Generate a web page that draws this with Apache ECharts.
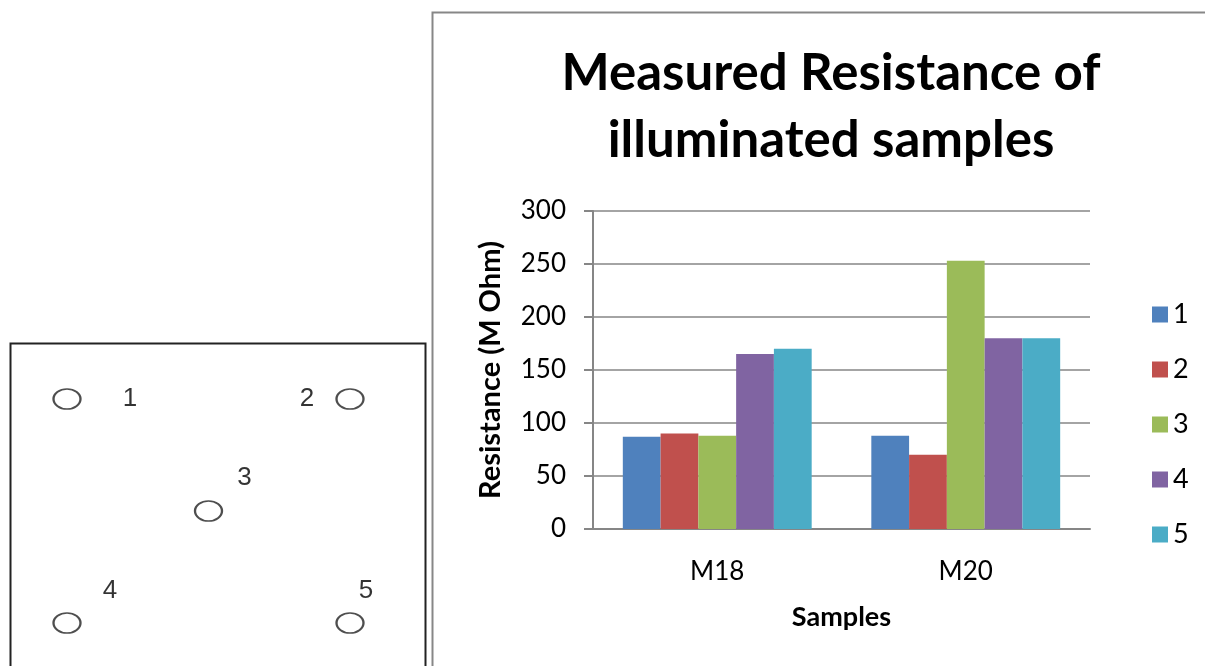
<!DOCTYPE html>
<html>
<head>
<meta charset="utf-8">
<script src="https://cdn.jsdelivr.net/npm/echarts@6/dist/echarts.min.js"></script>
<style>
html,body{margin:0;padding:0;background:#fff;}
#chart{width:1205px;height:666px;}
</style>
</head>
<body>
<div id="chart"></div>
<script>
// ---- data ----
const categories = ['M18', 'M20'];
const seriesNames = ['1', '2', '3', '4', '5'];
const values1 = [87, 88];
const values2 = [90, 70];
const values3 = [88, 253];
const values4 = [165, 180];
const values5 = [170, 180];
const yTicks = [0, 50, 100, 150, 200, 250, 300];
// electrode layout diagram (positions on a 3x3 layout)
const electrodeLabels = ['1', '2', '3', '4', '5'];
const electrodeX = [0, 2, 1, 0, 2];
const electrodeY = [2, 2, 1, 0, 0];

const colors = ['#4F81BD', '#C0504D', '#9BBB59', '#8064A2', '#4BACC6'];
const allValues = [values1, values2, values3, values4, values5];
const labelOffsets = [[63, 0], [-43, 0], [36, -33], [43, -32], [16, -32]];

const chart = echarts.init(document.getElementById('chart'), null, {renderer: 'canvas'});
const FONT = 'Lato';

const barSeries = seriesNames.map((n, i) => ({
  name: n,
  type: 'bar',
  xAxisIndex: 0,
  yAxisIndex: 0,
  data: allValues[i],
  barGap: '0%',
  barCategoryGap: '24%',
  itemStyle: {color: colors[i]},
  animation: false
}));

const option = {
  animation: false,
  textStyle: {fontFamily: FONT},
  title: {
    text: 'Measured Resistance of\nilluminated samples',
    left: 826, top: 35, textAlign: 'center',
    textStyle: {fontFamily: FONT, fontWeight: 'bold', fontSize: 51, lineHeight: 67, color: '#000'}
  },
  legend: {
    orient: 'vertical',
    left: 1147, top: 296,
    itemWidth: 16, itemHeight: 16, itemGap: 28,
    icon: 'rect',
    data: seriesNames,
    textStyle: {fontFamily: FONT, fontSize: 27, lineHeight: 22, color: '#000', padding: [0,0,0,0]}
  },
  grid: [
    {left: 593, right: 115, top: 211, bottom: 137, containLabel: false},
    {left: 67, width: 283, top: 399, height: 224}
  ],
  xAxis: [
    {
      type: 'category', gridIndex: 0, data: categories,
      axisLine: {lineStyle: {color: '#868686', width: 2}},
      axisTick: {show: false},
      axisLabel: {fontFamily: FONT, fontSize: 26, color: '#000', margin: 30},
      name: 'Samples', nameLocation: 'middle', nameGap: 75,
      nameTextStyle: {fontFamily: FONT, fontWeight: 'bold', fontSize: 27, color: '#000'}
    },
    {type: 'value', gridIndex: 1, min: 0, max: 2, show: false}
  ],
  yAxis: [
    {
      type: 'value', gridIndex: 0, min: 0, max: 300, interval: 50,
      axisLine: {show: true, lineStyle: {color: '#868686', width: 2}},
      axisTick: {show: true, length: 9, lineStyle: {color: '#868686', width: 2}},
      splitLine: {lineStyle: {color: '#868686', width: 1.6}},
      axisLabel: {fontFamily: FONT, fontSize: 26, color: '#000', margin: 27,
        formatter: v => yTicks.includes(v) ? String(v) : ''},
      name: 'Resistance (M Ohm)', nameLocation: 'middle', nameGap: 88,
      nameTextStyle: {fontFamily: FONT, fontWeight: 'bold', fontSize: 29, color: '#000'}
    },
    {type: 'value', gridIndex: 1, min: 0, max: 2, show: false}
  ],
  graphic: [
    {type: 'rect', shape: {x: 432.5, y: 12.5, width: 820, height: 700},
      style: {fill: 'none', stroke: '#878787', lineWidth: 2}, silent: true, z: -1},
    {type: 'rect', shape: {x: 10.5, y: 343.5, width: 415, height: 400},
      style: {fill: 'none', stroke: '#222', lineWidth: 2}, silent: true, z: -1}
  ],
  series: barSeries.concat([{
    type: 'scatter',
    xAxisIndex: 1, yAxisIndex: 1,
    symbol: 'circle',
    symbolSize: [27, 20],
    itemStyle: {color: '#fff', borderColor: '#222', borderWidth: 2},
    data: electrodeX.map((x, i) => ({
      value: [x, electrodeY[i]],
      label: {show: true, formatter: electrodeLabels[i], position: 'inside',
        offset: labelOffsets[i], fontFamily: 'Liberation Sans', fontSize: 26, color: '#000'}
    })),
    animation: false
  }])
};
chart.setOption(option);
</script>
</body>
</html>
